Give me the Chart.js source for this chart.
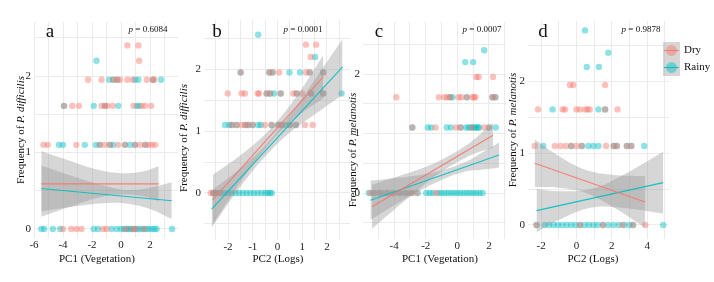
<!DOCTYPE html>
<html>
<head>
<meta charset="utf-8">
<script src="https://cdn.jsdelivr.net/npm/chart.js@4.4.1/dist/chart.umd.min.js"></script>
<style>
  html, body { margin: 0; padding: 0; background: #fff; }
  body { width: 714px; height: 282px; position: relative; overflow: hidden; }
  canvas { position: absolute; top: 0; }
</style>
</head>
<body>
<canvas id="pa"></canvas>
<canvas id="pb"></canvas>
<canvas id="pc"></canvas>
<canvas id="pd"></canvas>
<script>
// y levels the counts fall on (log scale of the frequency)
const LEVELS = [0, 1.1, 1.61, 1.95, 2.2, 2.4, 2.56, 2.71];
const Y_TICKS = [0, 1, 2];

// ---- panel a : P. difficilis vs PC1 (Vegetation) ----
const aXTicks = [-6, -4, -2, 0, 2];
// x values per level (index = LEVELS index)
const aDry = [
  [-4.0, -3.43, -3.08, -2.73, -1.23, -0.99, 0.3, 0.8, 1.0, 1.6],
  [-5.35, -5.05, -3.08, -1.46, -1.11, -0.76, -0.19, 0.28, 0.97, 1.32, 1.67, 1.9, 2.13, 2.36],
  [-3.93, -3.36, -2.9, -1.34, -1.11, -0.95, -0.58, 0.86, 1.43, 1.67, 2.08],
  [-2.27, -1.34, -0.53, -0.26, -0.07, 0.44, 0.81, 1.78, 2.2, 2.3],
  [1.25],
  [0.44, 1.2]
];
const aRainy = [
  [-5.5, -5.3, -4.7, -4.2, -1.88, -1.58, -0.65, -0.3, 0.0, 0.2, 0.4, 0.55, 0.7, 0.9, 1.1, 1.3, 1.5, 1.7, 1.9, 2.1, 2.3, 2.45, 3.52],
  [-4.28, -4.0, -2.5, -1.74, -1.46, -0.76, -0.53, 0.28, 0.63, 0.97, 1.67],
  [-3.93, -1.88, -1.11, -0.19, 1.09, 1.25],
  [-0.81, -0.53, -0.26, 0.97, 1.2, 2.2, 2.76],
  [-1.69]
];
const aDryFitX = [-5.5, 2.6], aDryFitY = [0.59, 0.59];
const aDryBandX = [-5.5, -3.5, -1.5, 0, 1.5, 2.6];
const aDryBandLo = [0.16, 0.29, 0.41, 0.45, 0.43, 0.36];
const aDryBandHi = [1.02, 0.89, 0.77, 0.73, 0.75, 0.82];
const aRainyFitX = [-5.5, 3.5], aRainyFitY = [0.53, 0.37];
const aRainyBandX = [-5.5, -3, -1, 0.5, 2, 3.5];
const aRainyBandLo = [0.23, 0.3, 0.34, 0.33, 0.26, 0.13];
const aRainyBandHi = [0.83, 0.67, 0.56, 0.51, 0.54, 0.61];

// ---- panel b : P. difficilis vs PC2 (Logs) ----
const bXTicks = [-2, -1, 0, 1, 2];
const bDry = [
  [-2.7, -2.6, -2.5, -2.35],
  [-1.85, -1.65, -1.45, -1.3, -1.18, -1.0, -0.51, -0.24, 0.03, 0.17, 0.5, 0.75, 1.11, 1.42],
  [-2.01, -1.45, -1.32, -0.8, -0.75, -0.44, -0.3, 0.13, 0.64, 0.77, 1.0, 1.35, 1.85],
  [-1.49, -0.33, -0.2, 0.07, 1.15, 1.3, 1.85],
  [1.34],
  [1.15, 1.56]
];
const bRainy = [
  [-2.6, -2.45, -2.3, -2.15, -2.0, -1.85, -1.7, -1.55, -1.4, -1.25, -1.1, -0.95, -0.8, -0.65, -0.5, -0.4, -0.3, -0.23],
  [-2.12, -1.95, -1.85, -1.65, -1.3, -1.18, -1.0, -0.78, -0.68, -0.24, 0.03, 0.17, 0.32, 0.5, 0.75],
  [-0.44, -0.3, -0.14, 0.13, 0.77, 1.35, 1.85, 2.59],
  [-1.49, -0.33, -0.2, 0.48, 0.91, 1.3, 1.85],
  [1.52],
  [],
  [-0.78]
];
const bDryFitX = [-2.62, 1.85], bDryFitY = [-0.11, 1.88];
const bDryBandX = [-2.62, -1.5, -0.5, 0.2, 1.0, 1.85];
const bDryBandLo = [-0.51, 0.17, 0.71, 1.03, 1.3, 1.53];
const bDryBandHi = [0.29, 0.61, 0.95, 1.26, 1.7, 2.23];
const bRainyFitX = [-2.66, 2.63], bRainyFitY = [-0.26, 2.04];
const bRainyBandX = [-2.66, -1.5, -0.5, 0.5, 1.5, 2.63];
const bRainyBandLo = [-0.56, 0.1, 0.59, 0.98, 1.27, 1.59];
const bRainyBandHi = [0.04, 0.4, 0.77, 1.26, 1.83, 2.49];

// ---- panel c : P. melanotis vs PC1 (Vegetation) ----
const cXTicks = [-6, -4, -2, 0, 2];
const cDry = [
  [-5.5, -5.2, -4.8, -4.4, -4.0, -3.6, -3.2, -2.9, -2.6, -1.34],
  [-2.85, -1.38, -0.08, 0.2, 0.9, 1.7, 2.0],
  [-3.86, -1.17, -0.82, -0.65, -0.46, 0.08, 0.25, 0.6, 0.96, 1.05, 1.15, 2.22, 2.4],
  [1.2, 1.35, 2.26]
];
const cRainy = [
  [-5.6, -5.3, -4.9, -4.5, -4.1, -3.7, -3.3, -2.9, -2.5, -1.97, -1.75, -1.55, -1.2, -1.0, -0.8, -0.6, -0.4, -0.2, 0.0, 0.2, 0.4, 0.6, 0.8, 1.0, 1.2, 1.4, 1.6],
  [-2.85, -1.87, -1.65, -0.67, -0.4, 0.2, 0.55, 0.7, 0.85, 1.0, 1.1, 1.2, 1.3, 1.38, 2.0, 2.43],
  [-0.46, -0.3, 0.6, 2.22, 2.4],
  [],
  [0.5, 1.0],
  [1.7]
];
const cDryFitX = [-5.4, 2.26], cDryFitY = [-0.23, 0.97];
const cDryBandX = [-5.4, -4, -2.5, -1, 0.5, 1.5, 2.26];
const cDryBandLo = [-0.6, -0.28, 0.05, 0.36, 0.59, 0.7, 0.76];
const cDryBandHi = [0.14, 0.26, 0.39, 0.56, 0.79, 1.0, 1.18];
const cRainyFitX = [-5.5, 2.64], cRainyFitY = [-0.12, 0.64];
const cRainyBandX = [-5.5, -4, -2.5, -1, 0.5, 1.5, 2.64];
const cRainyBandLo = [-0.45, -0.21, 0.02, 0.22, 0.36, 0.39, 0.43];
const cRainyBandHi = [0.21, 0.25, 0.3, 0.38, 0.52, 0.67, 0.85];

// ---- panel d : P. melanotis vs PC2 (Logs) ----
const dXTicks = [-2, 0, 2, 4];
const dDry = [
  [-2.26, 0.2, 1.5, 2.6, 3.2, 3.89],
  [-2.36, -1.22, -0.9, -0.6, -0.3, 0.0, 0.3, 1.67, 2.1, 2.28, 2.85, 3.1],
  [-2.17, -0.78, -0.65, 0.0, 0.2, 0.48, 0.62, 0.75, 1.62, 2.32],
  [-0.37, -0.18, 1.62]
];
const dRainy = [
  [-2.26, -1.8, -1.55, -1.3, -1.05, -0.8, -0.55, -0.3, -0.05, 0.2, 0.45, 0.7, 0.95, 1.2, 1.5, 1.8, 2.1, 2.4, 2.7, 3.0, 3.2, 4.9],
  [-1.88, -0.3, 0.3, 0.67, 0.95, 1.24, 2.1, 2.28, 2.85, 3.1, 3.83],
  [-1.35, 1.24, 1.62],
  [],
  [0.58, 1.27],
  [1.8],
  [],
  [0.48]
];
const dDryFitX = [-2.36, 3.89], dDryFitY = [0.86, 0.32];
const dDryBandX = [-2.36, -1, 0.5, 2, 3.89];
const dDryBandLo = [0.53, 0.52, 0.45, 0.26, -0.04];
const dDryBandHi = [1.19, 0.96, 0.77, 0.7, 0.68];
const dRainyFitX = [-2.26, 4.9], dRainyFitY = [0.2, 0.59];
const dRainyBandX = [-2.26, -1, 0.8, 2.5, 4.9];
const dRainyBandLo = [-0.1, 0.07, 0.24, 0.24, 0.16];
const dRainyBandHi = [0.5, 0.47, 0.5, 0.68, 1.02];

const SEASONS = ['Dry', 'Rainy'];
const COLORS = { Dry: [248, 118, 109], Rainy: [0, 191, 196] };
const FONT = '"Liberation Serif", "DejaVu Serif", serif';
const H = 282;

// layout of the four panels (page pixels)
const panels = [
  { id: 'pa', left: 0, width: 184, area: { l: 34, r: 178, t: 22, b: 238 },
    xMin: -6.0, xMax: 3.93, yMin: -0.118, yMax: 2.706, xTicks: aXTicks,
    letter: 'a', letterX: 50, pText: '0.6084', pX: 148,
    species: 'P. difficilis', yTitleX: 21, yTitleY: 130, xTitle: 'PC1 (Vegetation)', xTitleX: 97,
    series: { Dry: [aDry, aDryFitX, aDryFitY, aDryBandX, aDryBandLo, aDryBandHi],
              Rainy: [aRainy, aRainyFitX, aRainyFitY, aRainyBandX, aRainyBandLo, aRainyBandHi] } },
  { id: 'pb', left: 178, width: 176, area: { l: 204, r: 350, t: 20, b: 240 },
    xMin: -2.97, xMax: 2.93, yMin: -0.761, yMax: 2.799, xTicks: bXTicks,
    letter: 'b', letterX: 217, pText: '0.0001', pX: 303,
    species: 'P. difficilis', yTitleX: 184, yTitleY: 138, xTitle: 'PC2 (Logs)', xTitleX: 278,
    series: { Dry: [bDry, bDryFitX, bDryFitY, bDryBandX, bDryBandLo, bDryBandHi],
              Rainy: [bRainy, bRainyFitX, bRainyFitY, bRainyBandX, bRainyBandLo, bRainyBandHi] } },
  { id: 'pc', left: 346, width: 164, area: { l: 363, r: 507, t: 22, b: 239 },
    xMin: -5.97, xMax: 3.08, yMin: -0.773, yMax: 2.874, xTicks: cXTicks,
    letter: 'c', letterX: 379, pText: '0.0007', pX: 482,
    species: 'P. melanotis', yTitleX: 353, yTitleY: 150, xTitle: 'PC1 (Vegetation)', xTitleX: 440,
    series: { Dry: [cDry, cDryFitX, cDryFitY, cDryBandX, cDryBandLo, cDryBandHi],
              Rainy: [cRainy, cRainyFitX, cRainyFitY, cRainyBandX, cRainyBandLo, cRainyBandHi] } },
  { id: 'pd', left: 506, width: 208, area: { l: 528, r: 669, t: 21, b: 239 },
    xMin: -2.74, xMax: 5.23, yMin: -0.195, yMax: 2.841, xTicks: dXTicks,
    letter: 'd', letterX: 543, pText: '0.9878', pX: 641,
    species: 'P. melanotis', yTitleX: 513, yTitleY: 130, xTitle: 'PC2 (Logs)', xTitleX: 593,
    legend: true,
    series: { Dry: [dDry, dDryFitX, dDryFitY, dDryBandX, dDryBandLo, dDryBandHi],
              Rainy: [dRainy, dRainyFitX, dRainyFitY, dRainyBandX, dRainyBandLo, dRainyBandHi] } }
];

const rgba = (c, a) => `rgba(${c[0]},${c[1]},${c[2]},${a})`;

// majors plus the ggplot-style minor lines half way between them
function gridValues(majors, min, max) {
  const step = majors[1] - majors[0];
  const out = [];
  for (let v = majors[0] - step; v <= majors[majors.length - 1] + step + 1e-9; v += step / 2) {
    if (v >= min - 1e-9 && v <= max + 1e-9) out.push(Math.round(v * 100) / 100);
  }
  return out;
}

function textPlugin(p) {
  return {
    id: 'panelText_' + p.id,
    afterDraw(chart) {
      const ctx = chart.ctx;
      const dx = -p.left;
      ctx.save();
      ctx.fillStyle = '#111';
      ctx.textBaseline = 'middle';

      // panel letter
      ctx.font = `19px ${FONT}`;
      ctx.textAlign = 'center';
      ctx.fillText(p.letter, p.letterX + dx, 32);

      // p value
      const pa = 'p', pb = ' = ' + p.pText;
      ctx.font = `italic 9px ${FONT}`;
      const w1 = ctx.measureText(pa).width;
      ctx.font = `9px ${FONT}`;
      const w2 = ctx.measureText(pb).width;
      let x0 = p.pX + dx - (w1 + w2) / 2;
      ctx.textAlign = 'left';
      ctx.font = `italic 9px ${FONT}`;
      ctx.fillText(pa, x0, 30);
      ctx.font = `9px ${FONT}`;
      ctx.fillText(pb, x0 + w1, 30);

      // x title
      ctx.font = `11px ${FONT}`;
      ctx.textAlign = 'center';
      ctx.fillText(p.xTitle, p.xTitleX + dx, 259);

      // y title with italic species name
      const t1 = 'Frequency of ', t2 = p.species;
      ctx.font = `11px ${FONT}`;
      const m1 = ctx.measureText(t1).width;
      ctx.font = `italic 11px ${FONT}`;
      const m2 = ctx.measureText(t2).width;
      ctx.translate(p.yTitleX + dx, p.yTitleY);
      ctx.rotate(-Math.PI / 2);
      ctx.textAlign = 'left';
      ctx.font = `11px ${FONT}`;
      ctx.fillText(t1, -(m1 + m2) / 2, 0);
      ctx.font = `italic 11px ${FONT}`;
      ctx.fillText(t2, -(m1 + m2) / 2 + m1, 0);
      ctx.setTransform(1, 0, 0, 1, 0, 0);

      if (p.legend) {
        const kx = 663 + dx, ky = 42, ks = 17;
        SEASONS.forEach((s, i) => {
          const y = ky + i * ks;
          ctx.fillStyle = 'rgba(153,153,153,0.4)';
          ctx.fillRect(kx, y, ks, ks);
          ctx.fillStyle = rgba(COLORS[s], 0.45);
          ctx.beginPath();
          ctx.arc(kx + ks / 2, y + ks / 2, 5.5, 0, Math.PI * 2);
          ctx.fill();
          ctx.strokeStyle = rgba(COLORS[s], 0.9);
          ctx.lineWidth = 1.1;
          ctx.beginPath();
          ctx.moveTo(kx + 1, y + ks / 2);
          ctx.lineTo(kx + ks - 1, y + ks / 2);
          ctx.stroke();
          ctx.fillStyle = '#111';
          ctx.font = `11px ${FONT}`;
          ctx.textAlign = 'left';
          ctx.fillText(s, kx + ks + 4, y + ks / 2);
        });
      }
      ctx.restore();
    }
  };
}

function buildPanel(p) {
  const canvas = document.getElementById(p.id);
  canvas.width = p.width;
  canvas.height = H;
  canvas.style.left = p.left + 'px';

  const datasets = [];
  for (const s of SEASONS) {
    const [rows] = p.series[s];
    const pts = [];
    rows.forEach((xs, i) => xs.forEach(x => pts.push({ x, y: LEVELS[i] })));
    datasets.push({
      type: 'scatter', label: s, data: pts, order: 3,
      backgroundColor: rgba(COLORS[s], 0.45), borderWidth: 0, pointRadius: 3.2
    });
  }
  for (const s of SEASONS) {
    const [, , , bandX, bandLo, bandHi] = p.series[s];
    datasets.push({
      type: 'line', data: bandX.map((x, i) => ({ x, y: bandHi[i] })), order: 2,
      fill: '+1', backgroundColor: 'rgba(153,153,153,0.4)', borderWidth: 0,
      pointRadius: 0, tension: 0.4
    });
    datasets.push({
      type: 'line', data: bandX.map((x, i) => ({ x, y: bandLo[i] })), order: 2,
      fill: false, borderWidth: 0, pointRadius: 0, tension: 0.4
    });
  }
  for (const s of SEASONS) {
    const [, fitX, fitY] = p.series[s];
    datasets.push({
      type: 'line', data: fitX.map((x, i) => ({ x, y: fitY[i] })), order: 1,
      borderColor: rgba(COLORS[s], 0.9), borderWidth: 1.1, pointRadius: 0, fill: false
    });
  }

  const xGrid = gridValues(p.xTicks, p.xMin, p.xMax);
  const yGrid = gridValues(Y_TICKS, p.yMin, p.yMax);
  const isMajor = (list, v) => list.some(t => Math.abs(t - v) < 1e-6);

  new Chart(canvas, {
    type: 'scatter',
    data: { datasets },
    options: {
      responsive: false,
      animation: false,
      events: [],
      layout: { padding: { top: p.area.t, right: p.left + p.width - p.area.r, left: 0, bottom: 0 } },
      plugins: { legend: { display: false }, tooltip: { enabled: false } },
      scales: {
        x: {
          type: 'linear', min: p.xMin, max: p.xMax,
          afterBuildTicks: sc => { sc.ticks = xGrid.map(v => ({ value: v })); },
          afterFit: sc => { sc.height = H - p.area.b; },
          grid: { color: '#ebebeb', lineWidth: 1, drawTicks: false },
          border: { display: false },
          ticks: {
            autoSkip: false, maxRotation: 0, padding: 1, color: '#222',
            font: { family: FONT, size: 11 },
            callback: v => isMajor(p.xTicks, v) ? String(v) : ''
          }
        },
        y: {
          type: 'linear', min: p.yMin, max: p.yMax,
          afterBuildTicks: sc => { sc.ticks = yGrid.map(v => ({ value: v })); },
          afterFit: sc => { sc.width = p.area.l - p.left; },
          grid: { color: '#ebebeb', lineWidth: 1, drawTicks: false },
          border: { display: false },
          ticks: {
            autoSkip: false, padding: 3, color: '#222',
            font: { family: FONT, size: 11 },
            callback: v => isMajor(Y_TICKS, v) ? String(v) : ''
          }
        }
      }
    },
    plugins: [textPlugin(p)]
  });
}

panels.forEach(buildPanel);
</script>
</body>
</html>
